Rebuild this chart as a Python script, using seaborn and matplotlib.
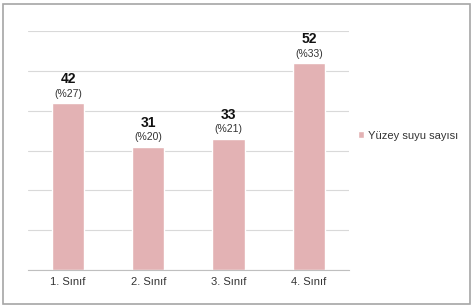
import matplotlib
matplotlib.use("Agg")
import matplotlib.pyplot as plt
import seaborn as sns
import pandas as pd
from matplotlib.patches import Rectangle

categories = ["1. Sınıf", "2. Sınıf", "3. Sınıf", "4. Sınıf"]
values = [42, 31, 33, 52]
percents = ["(%27)", "(%20)", "(%21)", "(%33)"]
series_name = "Yüzey suyu sayısı"

sns.set_theme(style="white")
plt.rcParams['font.family'] = ['Liberation Sans', 'DejaVu Sans']

df = pd.DataFrame({"cat": categories, "val": values})

fig = plt.figure(figsize=(4.74, 3.08), dpi=100)
ax = fig.add_axes([0.059, 0.123, 0.677, 0.776])
bar_color = "#E3B2B4"
sns.barplot(data=df, x="cat", y="val", color=bar_color, width=0.4,
            saturation=1, ax=ax, label=series_name)

ax.set_ylim(0, 60)
ax.set_xlim(-0.5, 3.5)
ax.set_yticks(range(0, 61, 10))
ax.set_yticklabels([])
ax.yaxis.grid(True, color="#D9D9D9", linewidth=0.8)
ax.set_axisbelow(True)
ax.tick_params(axis="y", length=0)
ax.set_xlabel("")
ax.set_ylabel("")
for s in ["top", "right", "left"]:
    ax.spines[s].set_visible(False)
ax.spines["bottom"].set_color("#BFBFBF")
ax.spines["bottom"].set_linewidth(0.8)
ax.tick_params(axis="x", which="major", length=0, labelsize=8,
               labelcolor="#333333", pad=5)
ax.set_xticks([-0.5, 0.5, 1.5, 2.5, 3.5], minor=True)
ax.tick_params(axis="x", which="minor", length=3, color="#BFBFBF", width=0.8)

for i, (v, p) in enumerate(zip(values, percents)):
    ax.annotate(str(v), (i, v), xytext=(0, 12), textcoords="offset points",
                ha="center", va="bottom", fontsize=10, fontweight="bold",
                color="#111111")
    ax.annotate(p, (i, v), xytext=(0, 3), textcoords="offset points",
                ha="center", va="bottom", fontsize=7.5, color="#333333")

leg = ax.legend(loc="center left", bbox_to_anchor=(0.745, 0.56),
                bbox_transform=fig.transFigure, frameon=False,
                fontsize=8, handlelength=0.6, handleheight=0.6,
                handletextpad=0.3, borderaxespad=0)
for t in leg.get_texts():
    t.set_color("#333333")

fig.patches.append(Rectangle((0.006, 0.012), 0.986, 0.976,
                             transform=fig.transFigure, fill=False,
                             edgecolor="#A6A6A6", linewidth=1.2))

fig.savefig("out.png", dpi=100)
